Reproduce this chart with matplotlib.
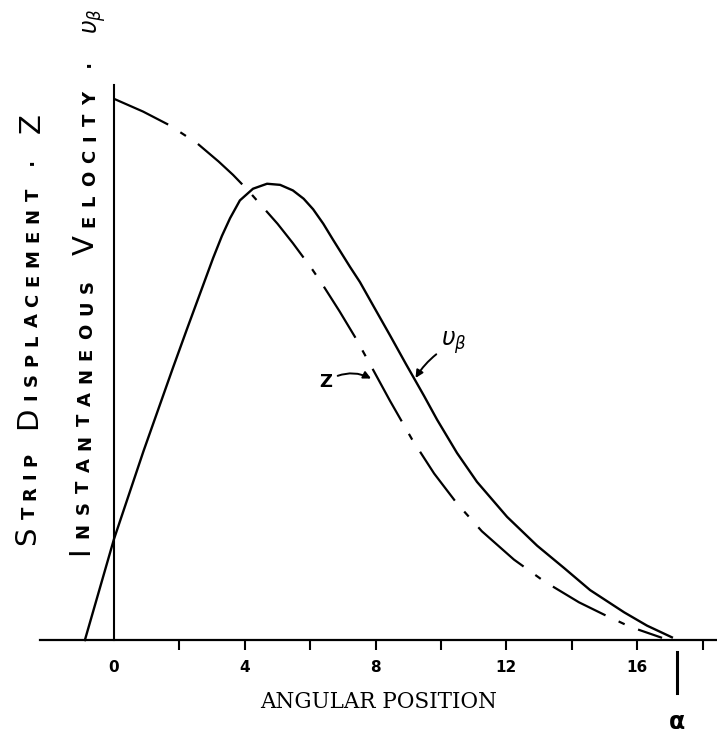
import matplotlib
matplotlib.use("Agg")
import matplotlib.pyplot as plt

W, H = 717, 735

# velocity curve (solid)
theta_v = [-0.89, 0.0, 0.9, 1.80, 2.23, 3.03, 3.3, 3.55, 3.85, 4.25, 4.68, 5.08, 5.47,
           5.8, 6.09, 6.4, 6.70, 7.22, 7.52, 7.95, 8.44, 8.93, 9.48, 9.88, 10.49,
           11.10, 12.02, 12.94, 13.76, 14.56, 15.60, 16.3, 17.06]
v_beta = [0.0, 0.182, 0.34, 0.49, 0.560, 0.688, 0.728, 0.760, 0.792, 0.813, 0.822,
          0.820, 0.810, 0.795, 0.776, 0.750, 0.721, 0.672, 0.645, 0.600, 0.549,
          0.497, 0.440, 0.397, 0.337, 0.285, 0.222, 0.170, 0.130, 0.090, 0.050,
          0.026, 0.005]

# strip displacement (dash-dot)
theta_z = [0.0, 0.89, 1.71, 2.54, 3.2, 3.64, 4.10, 4.40, 5.0, 5.47, 6.06, 6.36, 6.9,
           7.37, 7.83, 8.44, 9.11, 9.79, 10.49, 11.25, 12.23, 13.15, 14.22, 14.98,
           15.78, 16.76]
z_disp = [0.975, 0.952, 0.927, 0.895, 0.862, 0.838, 0.810, 0.790, 0.750, 0.715,
          0.668, 0.642, 0.592, 0.546, 0.497, 0.431, 0.362, 0.300, 0.246, 0.196,
          0.145, 0.106, 0.068, 0.046, 0.024, 0.004]

tick_pos = [0, 2, 4, 6, 8, 10, 12, 14, 16, 18]
tick_labels = ["0", "", "4", "", "8", "", "12", "", "16", ""]
alpha_end = 17.22

outer_label = "STRIP DISPLACEMENT · Z"
inner_label = "INSTANTANEOUS VELOCITY ·"
inner_tail = r"$\upsilon_\beta$"
x_title = "ANGULAR POSITION"

fig = plt.figure(figsize=(W / 100, H / 100), dpi=100)
ax = fig.add_axes([0, 0, 1, 1])
ax.set_xlim(-3.486, 18.44)
ax.set_ylim(-0.171, 1.153)

ax.plot(theta_v, v_beta, color="black", lw=1.7, solid_joinstyle="round")
ax.plot(theta_z, z_disp, color="black", lw=1.6, dashes=(27, 6.5, 3, 6.5))

for s in ["top", "right"]:
    ax.spines[s].set_visible(False)
ax.spines["left"].set_position(("data", 0))
ax.spines["bottom"].set_position(("data", 0))
ax.spines["left"].set_bounds(0, 1.0)
ax.spines["bottom"].set_bounds(-2.26, 18.44)
ax.spines["left"].set_linewidth(1.5)
ax.spines["bottom"].set_linewidth(1.6)

ax.set_xticks(tick_pos, tick_labels)
ax.tick_params(axis="x", direction="out", length=7, width=1.5, pad=7, labelsize=11)
for lab in ax.get_xticklabels():
    lab.set_fontweight("bold")
ax.xaxis.get_major_ticks()[0].tick1line.set_visible(False)
ax.set_yticks([])

# end marker alpha
ax.plot([alpha_end, alpha_end], [-0.022, -0.096], color="black", lw=2.2, clip_on=False)
ax.text(alpha_end, -0.148, "α", ha="center", va="center", fontsize=17, fontweight="bold")

ax.text(8.1, -0.112, x_title, ha="center", va="center", fontsize=15.5,
        family="DejaVu Serif")

arrow = dict(arrowstyle="-|>", lw=1.4, color="black", mutation_scale=11,
             shrinkA=2, shrinkB=1)
ax.annotate("Z", xy=(7.9, 0.47), xytext=(6.48, 0.465), ha="center", va="center",
            fontsize=13, fontweight="bold",
            arrowprops=dict(arrow, connectionstyle="arc3,rad=-0.3"))
ax.annotate(inner_tail, xy=(9.2, 0.47), xytext=(10.4, 0.535), ha="center",
            va="center", fontsize=17,
            arrowprops=dict(arrow, connectionstyle="arc3,rad=0.15"))

renderer = fig.canvas.get_renderer()


def glyph_len(s, size, weight):
    t = fig.text(0, 0, s, rotation=90, fontsize=size, fontweight=weight)
    h = t.get_window_extent(renderer).height
    t.remove()
    return h


def vertical_label(text, xb, yb, yt, slope, big=21, small=13, gap=16, tail=None):
    # hand lettered small caps, laid out bottom to top
    pieces = []
    first = True
    for ch in text:
        if ch == " ":
            pieces.append(None)
            first = True
            continue
        size, weight = (big, "normal") if first else (small, "bold")
        first = False
        pieces.append((ch, size, weight))
    if tail:
        pieces.append(None)
        pieces.append((tail, 17, "normal"))
    lens = [glyph_len(*p) if p else 0 for p in pieces]
    n_gap = pieces.count(None)
    n = len(pieces) - n_gap
    track = (yb - yt - sum(lens) - n_gap * gap) / (n - 1)
    y = yb
    for p, l in zip(pieces, lens):
        if p is None:
            y -= gap
            continue
        x = xb + slope * (yb - y)
        fig.text(x / W, 1 - y / H, p[0], rotation=90, rotation_mode="anchor",
                 ha="left", va="baseline", fontsize=p[1], fontweight=p[2])
        y -= l + track


vertical_label(outer_label, 35, 545, 113, 0.012)
vertical_label(inner_label, 88, 555, 8, 0.018, tail=inner_tail)

fig.savefig("out.png", dpi=100)
